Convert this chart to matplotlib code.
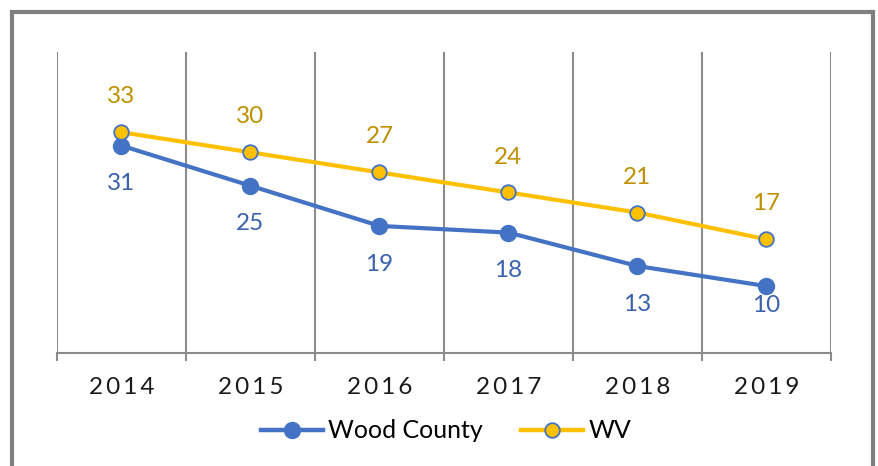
import matplotlib
matplotlib.use("Agg")
import matplotlib.pyplot as plt
from matplotlib.patches import Rectangle
from matplotlib.lines import Line2D

years = ["2014", "2015", "2016", "2017", "2018", "2019"]
wood_county = [31, 25, 19, 18, 13, 10]
wv = [33, 30, 27, 24, 21, 17]

plt.rcParams['font.family'] = ['Lato', 'DejaVu Sans']

W, H = 879, 466
fig = plt.figure(figsize=(W/100, H/100), dpi=100)
ax = fig.add_axes([57/W, 1-353/H, (831-57)/W, (353-52)/H])

x = list(range(len(years)))
blue = "#4472C4"
gold = "#FFC000"
ax.plot(x, wood_county, color=blue, lw=3, marker='o', ms=11.5,
        mfc=blue, mec=blue, zorder=3, label="Wood County")
ax.plot(x, wv, color=gold, lw=3, marker='o', ms=10.5,
        mfc=gold, mec=blue, mew=1.3, zorder=4, label="WV")

fs = 17.5
for i, (xi, v) in enumerate(zip(x, wood_county)):
    off = -14 if i == len(x) - 1 else -27.5
    ax.annotate(str(v), (xi, v), xytext=(0, off), textcoords='offset points',
                ha='center', va='center', fontsize=fs, color="#3A62AD")
for xi, v in zip(x, wv):
    ax.annotate(str(v), (xi, v), xytext=(0, 25.5), textcoords='offset points',
                ha='center', va='center', fontsize=fs, color="#BF9000")

ax.set_xlim(-0.5, len(years) - 0.5)
ax.set_ylim(0, 45)
ax.set_yticks([])
for s in ['top', 'right', 'left']:
    ax.spines[s].set_visible(False)
ax.spines['bottom'].set_color("#8c8c8c")
ax.spines['bottom'].set_linewidth(1.5)

bounds = [i - 0.5 for i in range(len(years) + 1)]
for b in bounds:
    ax.axvline(b, color="#8c8c8c", lw=1.5, zorder=1)
ax.set_xticks(bounds, minor=False)
ax.set_xticklabels([])
ax.tick_params(axis='x', length=6, width=1.5, color="#8c8c8c")
spaced = ["\u200a\u200a".join(y) for y in years]
for xi, lab in zip(x, spaced):
    ax.text(xi, -0.116, lab, transform=ax.get_xaxis_transform(), ha='center',
            va='center', fontsize=fs, color="#1a1a1a")

handles = [Line2D([], [], color=blue, lw=3.2, marker='o', ms=11.5, mfc=blue, mec=blue),
           Line2D([], [], color=gold, lw=3.2, marker='o', ms=10.5, mfc=gold, mec=blue, mew=1.3)]
fig.legend(handles, ["Wood County", "WV"], loc='center', bbox_to_anchor=(446/W, 1-431/H),
           ncol=2, frameon=False, prop={'size': 18},
           handlelength=2.5, handletextpad=0.2, columnspacing=1.5)

fig.patches.append(Rectangle((12.5/W, -0.1), (873-12.5)/W, 1.1 - 12.5/H,
                             transform=fig.transFigure, fill=False,
                             edgecolor="#7f7f7f", lw=3, clip_on=False))

fig.savefig("out.png", dpi=100)
